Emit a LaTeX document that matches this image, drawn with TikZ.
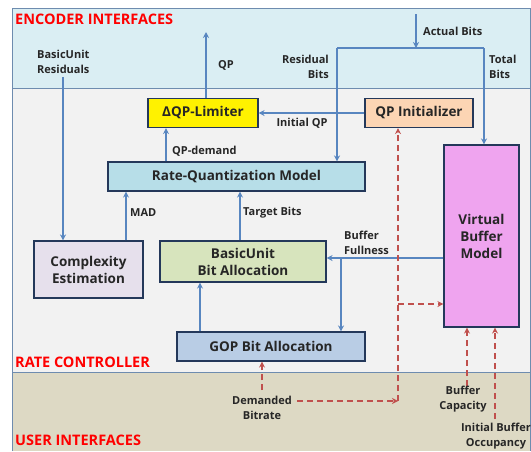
\documentclass[tikz,border=0pt]{standalone}
\usepackage{fontspec}
\setmainfont{Open Sans}
\usetikzlibrary{arrows.meta}
\definecolor{arrblue}{RGB}{88,134,192}
\definecolor{dred}{RGB}{192,80,77}
\definecolor{boxedge}{RGB}{36,56,90}
\definecolor{encfill}{RGB}{218,238,243}
\definecolor{ratefill}{RGB}{242,242,242}
\definecolor{userfill}{RGB}{221,217,196}
\definecolor{frameedge}{RGB}{110,140,175}
\definecolor{txt}{RGB}{38,38,38}
\tikzset{
  blk/.style={draw=boxedge, line width=1.1pt, text=txt, align=center, inner sep=0pt,
     font=\fontsize{13.5}{17}\selectfont\bfseries},
  arr/.style={draw=arrblue, line width=1.5pt, -{Stealth[length=6pt,width=6pt]}},
  ln/.style={draw=arrblue, line width=1.5pt},
  darr/.style={draw=dred, line width=1.5pt, dash pattern=on 6pt off 4pt, -{Stealth[length=6pt,width=6pt]}},
  lbl/.style={text=txt, font=\fontsize{11}{15}\selectfont\bfseries, inner sep=0pt},
  sect/.style={text=red, font=\fontsize{14.5}{15}\selectfont\bfseries, inner sep=0pt, anchor=west},
}
\begin{document}
\begin{tikzpicture}[x=1pt,y=-1pt]
\useasboundingbox (0,0) rectangle (531,451);
% panels
\fill[encfill] (12,8) rectangle (530,88);
\fill[ratefill] (12,88) rectangle (530,372);
\fill[userfill] (12,372) rectangle (530,451);
\draw[frameedge, line width=1pt] (12,451) -- (12,8) -- (530,8) -- (530,451);
\draw[frameedge, line width=1pt] (12,88) -- (530,88);
\draw[frameedge, line width=1pt] (12,372) -- (530,372);
\node[sect] (t1) at (15,19) {ENCODER INTERFACES};
\node[sect] (t2) at (15,362) {RATE CONTROLLER};
\node[sect] (t3) at (15,440) {USER INTERFACES};
% blocks
\node[blk, fill=yellow, minimum width=110pt, minimum height=29pt] (lim) at (203,113) {ΔQP-Limiter};
\node[blk, fill={rgb,255:red,252;green,213;blue,180}, minimum width=108pt, minimum height=29pt] (qpi) at (419,113) {QP Initializer};
\node[blk, fill={rgb,255:red,183;green,222;blue,232}, minimum width=257pt, minimum height=29pt] (rq) at (236.5,176.5) {Rate-Quantization Model};
\node[blk, fill={rgb,255:red,230;green,224;blue,236}, minimum width=109pt, minimum height=57pt] (ce) at (88.5,269.5) {Complexity\\Estimation};
\node[blk, fill={rgb,255:red,215;green,228;blue,189}, minimum width=166pt, minimum height=41pt] (bu) at (243,261.5) {BasicUnit\\Bit Allocation};
\node[blk, fill={rgb,255:red,239;green,164;blue,239}, minimum width=75pt, minimum height=182pt] (vbm) at (481.5,236) {Virtual\\Buffer\\Model};
\node[blk, fill={rgb,255:red,185;green,205;blue,229}, minimum width=188pt, minimum height=29pt] (gop) at (271,346.5) {GOP Bit Allocation};
% coordinates
\coordinate (qpout) at (206,32);
\coordinate (abtop) at (416,14);
\coordinate (abj) at (416,48);
\coordinate (rbc) at (337,48);
\coordinate (tbc) at (484,48);
\coordinate (bur) at (63,77);
\coordinate (bfy) at (0,258);
\coordinate (bfj) at (341,258);
\coordinate (dbtop) at (262,390);
\coordinate (dbr) at (297,401);
\coordinate (dcorner) at (398,401);
\coordinate (dmid) at (398,304);
\coordinate (bcap) at (467,386);
\coordinate (ibo) at (495,419);
\coordinate (xqpd) at (166,0);
\coordinate (xmad) at (126,0);
\coordinate (xtgt) at (240,0);
\coordinate (xgop) at (200,0);
% blue connectors
\draw[arr] (lim.north -| qpout) -- (qpout);
\draw[arr] (abtop) -- (abj);
\draw[ln] (rbc) -- (tbc);
\draw[arr] (rbc) -- (rq.north -| rbc);
\draw[arr] (tbc) -- (vbm.north -| tbc);
\draw[arr] (bur) -- (ce.north -| bur);
\draw[arr] (qpi.west) -- (lim.east);
\draw[arr] (rq.north -| xqpd) -- (lim.south -| xqpd);
\draw[arr] (ce.north -| xmad) -- (rq.south -| xmad);
\draw[arr] (bu.north -| xtgt) -- (rq.south -| xtgt);
\draw[arr] (vbm.west |- bfy) -- (bu.east |- bfy);
\draw[arr] (bfj) -- (gop.north -| bfj);
\draw[arr] (gop.north -| xgop) -- (bu.south -| xgop);
% dashed connectors
\draw[darr] (dbtop) -- (gop.south -| dbtop);
\draw[darr] (dbr) -- (dcorner);
\draw[darr] (dcorner) -- (qpi.south -| dcorner);
\draw[darr] (dmid) -- (vbm.west |- dmid);
\draw[darr] (bcap) -- (vbm.south -| bcap);
\draw[darr] (ibo) -- (vbm.south -| ibo);
% labels
\node[lbl, anchor=west] (lqp) at (218,65) {QP};
\node[lbl, anchor=west] (lab) at (423,31) {Actual Bits};
\node[lbl, anchor=west, align=left] (lbur) at (37,62) {BasicUnit\\Residuals};
\node[lbl, anchor=east, align=right] (lrb) at (329,67) {Residual\\Bits};
\node[lbl, anchor=west, align=left] (ltb) at (489,67) {Total\\Bits};
\node[lbl] (liqp) at (302,123) {Initial QP};
\node[lbl, anchor=west] (lqpd) at (172,151) {QP-demand};
\node[lbl, anchor=west] (lmad) at (130,213) {MAD};
\node[lbl, anchor=west] (ltgt) at (243,213) {Target Bits};
\node[lbl, anchor=west, align=left] (lbf) at (344,243) {Buffer\\Fullness};
\node[lbl, align=center] (ldb) at (262,408) {Demanded\\Bitrate};
\node[lbl, align=center] (lbc) at (463,399) {Buffer\\Capacity};
\node[lbl, align=center] (libo) at (496,436) {Initial Buffer\\Occupancy};
\end{tikzpicture}
\end{document}
